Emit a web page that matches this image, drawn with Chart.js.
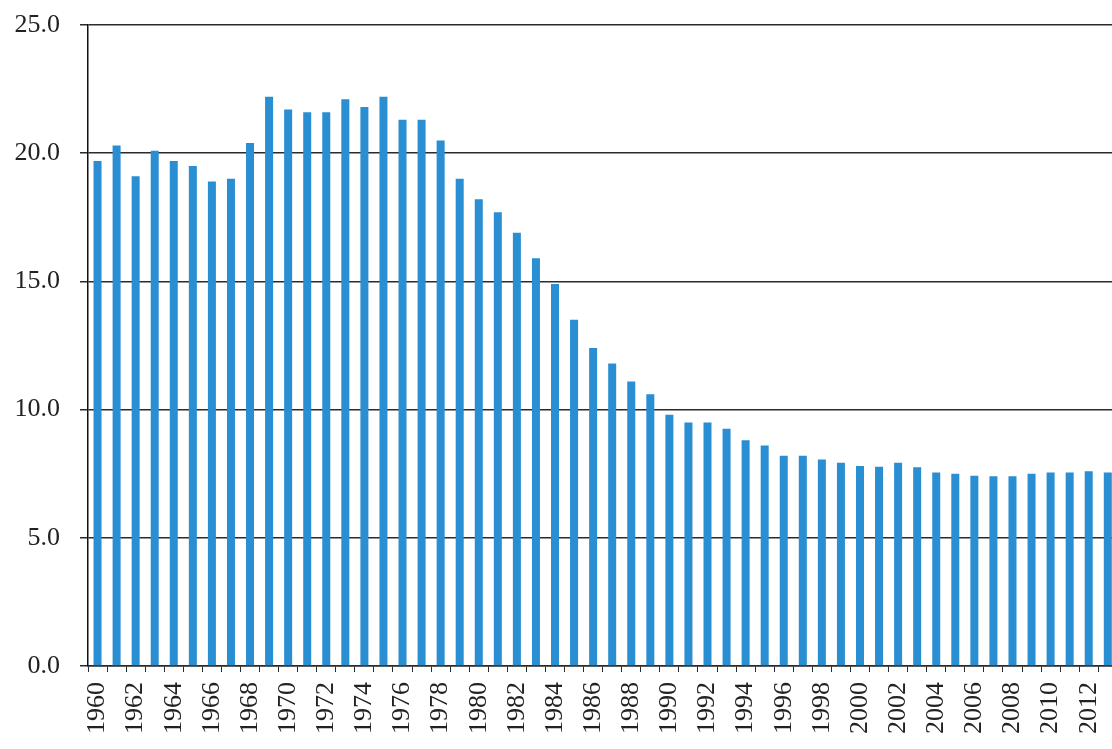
<!DOCTYPE html>
<html>
<head>
<meta charset="utf-8">
<script src="https://cdn.jsdelivr.net/npm/chart.js@4.4.0/dist/chart.umd.min.js"></script>
<style>
  html, body { margin: 0; padding: 0; background: #fff; overflow: hidden; }
  #wrap { position: relative; width: 1149px; height: 749px; }
</style>
</head>
<body>
<div id="wrap"><canvas id="chart"></canvas></div>
<script>
// years 1960..2013
const years = [
  "1960", "1961", "1962", "1963", "1964", "1965", "1966", "1967", "1968", "1969",
  "1970", "1971", "1972", "1973", "1974", "1975", "1976", "1977", "1978", "1979",
  "1980", "1981", "1982", "1983", "1984", "1985", "1986", "1987", "1988", "1989",
  "1990", "1991", "1992", "1993", "1994", "1995", "1996", "1997", "1998", "1999",
  "2000", "2001", "2002", "2003", "2004", "2005", "2006", "2007", "2008", "2009",
  "2010", "2011", "2012", "2013"
];

const values = [
  19.7, 20.3, 19.1, 20.1, 19.7, 19.5, 18.9, 19.0, 20.4, 22.2,
  21.7, 21.6, 21.6, 22.1, 21.8, 22.2, 21.3, 21.3, 20.5, 19.0,
  18.2, 17.7, 16.9, 15.9, 14.9, 13.5, 12.4, 11.8, 11.1, 10.6,
  9.8, 9.5, 9.5, 9.25, 8.8, 8.6, 8.2, 8.2, 8.05, 7.93,
  7.8, 7.77, 7.93, 7.75, 7.55, 7.5, 7.42, 7.4, 7.4, 7.5,
  7.55, 7.55, 7.6, 7.55
];

const yTicks = [0, 5, 10, 15, 20, 25];

const BAR_BLUE = "#2a8ed2";
const GRID_DARK = "#2b2b2b";
const FONT = "'Liberation Serif', 'DejaVu Serif', serif";

new Chart(document.getElementById("chart"), {
  type: "bar",
  data: {
    labels: years,
    datasets: [
      {
        data: values,
        backgroundColor: BAR_BLUE,
        borderWidth: 0,
        categoryPercentage: 1.0,
        barPercentage: 0.42,
      },
    ],
  },
  options: {
    responsive: true,
    maintainAspectRatio: false,
    animation: false,
    layout: {
      padding: { top: 25, right: 1, bottom: 0, left: 0 },
    },
    scales: {
      x: {
        grid: {
          display: true,
          drawOnChartArea: false,
          drawTicks: true,
          tickLength: 6,
          color: GRID_DARK,
          lineWidth: 1,
        },
        border: { display: true, color: GRID_DARK, width: 1.5 },
        ticks: {
          color: "#222",
          font: { family: FONT, size: 26 },
          autoSkip: false,
          maxRotation: 90,
          minRotation: 90,
          padding: 10,
          callback: function (value, index) {
            return index % 2 === 0 ? years[index] : "";
          },
        },
        afterFit: (scale) => {
          scale.height = 83;
          scale.paddingTop = 0;
          scale.paddingBottom = 0;
        },
      },
      y: {
        min: 0,
        max: 25,
        afterBuildTicks: (scale) => {
          scale.ticks = yTicks.map((v) => ({ value: v }));
        },
        grid: {
          color: GRID_DARK,
          lineWidth: 1.5,
          tickLength: 8,
        },
        border: { display: true, color: "#111", width: 1.5 },
        ticks: {
          color: "#222",
          font: { family: FONT, size: 26 },
          padding: 20,
          callback: (val) => Number(val).toFixed(1),
        },
        afterFit: (scale) => {
          scale.width = 88;
          scale.paddingTop = 0;
          scale.paddingBottom = 0;
        },
      },
    },
    plugins: {
      legend: { display: false },
      tooltip: { enabled: false },
    },
  },
});
</script>
</body>
</html>
